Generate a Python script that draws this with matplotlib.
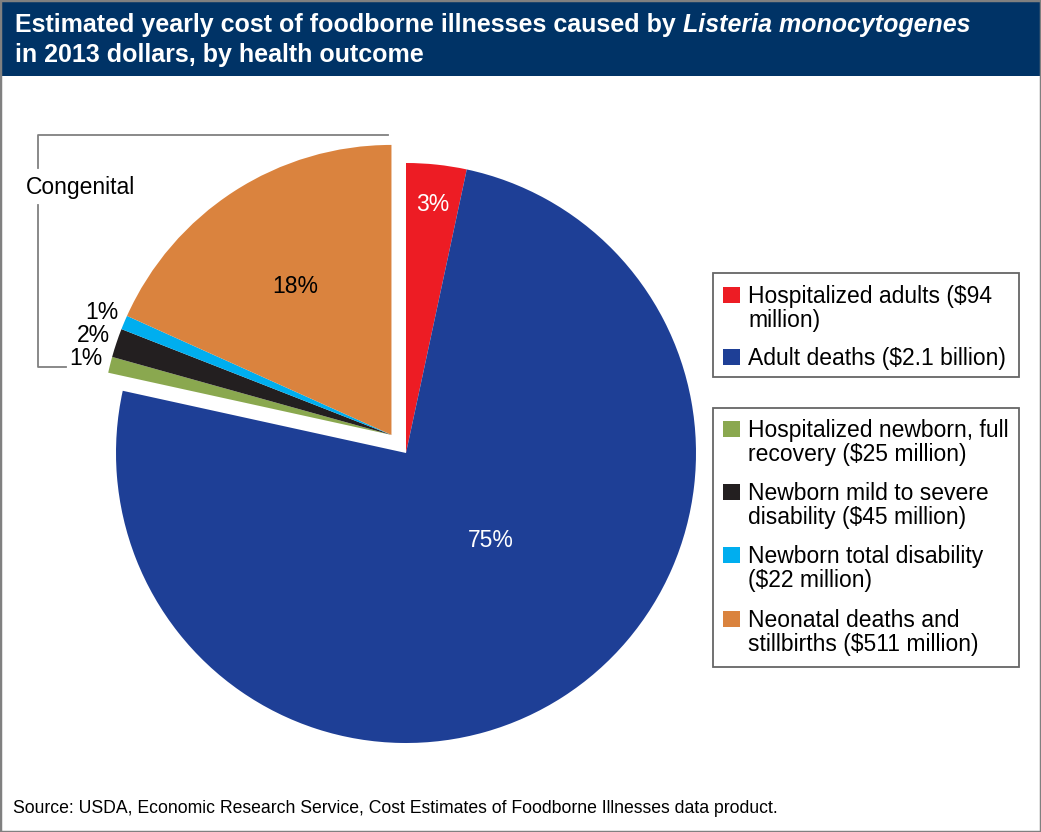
import numpy as np
import matplotlib.pyplot as plt
from matplotlib.patches import Rectangle
from matplotlib.lines import Line2D
from matplotlib.text import Annotation

plt.rcParams['font.family'] = ['Liberation Sans', 'DejaVu Sans']

# data
outcomes = ['Hospitalized adults ($94\nmillion)',
            'Adult deaths ($2.1 billion)',
            'Hospitalized newborn, full\nrecovery ($25 million)',
            'Newborn mild to severe\ndisability ($45 million)',
            'Newborn total disability\n($22 million)',
            'Neonatal deaths and\nstillbirths ($511 million)']
cost_musd = [94, 2100, 25, 45, 22, 511]
colors = ['#ED1C24', '#1E3F96', '#8AA84F', '#231F20', '#00AEEF', '#DA833E']
congenital = [False, False, True, True, True, True]

W, H = 1041, 832
fig = plt.figure(figsize=(W / 100, H / 100), dpi=100)
fs = 16.5


def fx(px):
    return px / W


def fy(py):
    return 1 - py / H


# pie axes, centre (406,453) px, radius 290 px
R = 290
S = 370
ax = fig.add_axes([fx(406 - S), fy(453 + S), 2 * S / W, 2 * S / H])
wedges, texts, autotexts = ax.pie(cost_musd, colors=colors, startangle=90,
                                  counterclock=False, autopct='%.0f%%',
                                  wedgeprops=dict(linewidth=0),
                                  textprops=dict(fontsize=fs))
lim = S / R
ax.set_xlim(-lim, lim)
ax.set_ylim(-lim, lim)
ax.set_aspect('equal')
ax.axis('off')

# angles of each slice
fr = np.array(cost_musd) / np.sum(cost_musd)
ends = 90 - 360 * np.cumsum(fr)
starts = ends + 360 * fr
mids = (starts + ends) / 2

# pull the congenital group out as one piece
idx = [i for i, c in enumerate(congenital) if c]
gmid = np.deg2rad((starts[idx[0]] + ends[idx[-1]]) / 2)
off = 0.08 * np.array([np.cos(gmid), np.sin(gmid)])
for i in idx:
    wedges[i].set_center(tuple(off))

label_r = [0.86, 0.42, 1.085, 1.085, 1.085, 0.61]
label_ang = mids.copy()
label_ang[1] = -46
for i, t in enumerate(autotexts):
    c = off if congenital[i] else np.zeros(2)
    a = np.deg2rad(label_ang[i])
    t.set_position((c[0] + label_r[i] * np.cos(a), c[1] + label_r[i] * np.sin(a)))
    t.set_color('white' if i < 2 else 'black')
    t.set_ha('center')
    t.set_va('center')

# congenital bracket
gray = '#808080'
fig.add_artist(Line2D([fx(388), fx(38), fx(38)], [fy(135), fy(135), fy(168)],
                      color=gray, lw=1.3))
fig.add_artist(Line2D([fx(38), fx(38), fx(66)], [fy(205), fy(367), fy(367)],
                      color=gray, lw=1.3))
fig.text(fx(26), fy(194), 'Congenital', fontsize=fs, va='baseline')

# legends (two boxes)
boxes = [(273, 377, [0, 1], [303, 365]),
         (408, 667, [2, 3, 4, 5], [437, 500, 563, 627])]
for top, bot, items, bases in boxes:
    fig.add_artist(Rectangle((fx(713), fy(bot)), fx(1019) - fx(713), (bot - top) / H,
                             transform=fig.transFigure, fill=False, ec='#666666', lw=1.3))
    for i, b in zip(items, bases):
        fig.add_artist(Rectangle((fx(723), fy(b)), 17 / W, 16.5 / H,
                                 transform=fig.transFigure, fc=colors[i], ec='none'))
        for j, line in enumerate(outcomes[i].split('\n')):
            fig.text(fx(748), fy(b + 24 * j), line, fontsize=fs, va='baseline')

# title bar
fig.add_artist(Rectangle((0, fy(76)), 1, 76 / H, transform=fig.transFigure,
                         fc='#003366', ec='none'))
t1 = fig.text(fx(15), fy(32), 'Estimated yearly cost of foodborne illnesses caused by',
              fontsize=18, weight='bold', color='white', va='baseline')
fig.add_artist(Annotation('Listeria monocytogenes', xy=(1, 0), xycoords=t1,
                          xytext=(5, 0), textcoords='offset points', fontsize=18,
                          weight='bold', style='italic', color='white',
                          va='bottom', ha='left', annotation_clip=False))
fig.text(fx(15), fy(62), 'in 2013 dollars, by health outcome',
         fontsize=18, weight='bold', color='white', va='baseline')

fig.text(fx(13), fy(813),
         'Source: USDA, Economic Research Service, Cost Estimates of Foodborne Illnesses data product.',
         fontsize=12.7, va='baseline')

# outer frame
fig.add_artist(Rectangle((0, 0), 1, 1, transform=fig.transFigure, fill=False,
                         ec='#808080', lw=2.5))

fig.savefig('out.png', dpi=100)
